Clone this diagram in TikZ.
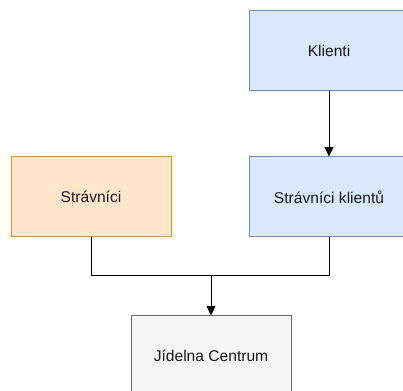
\documentclass[tikz,border=0pt]{standalone}
\usepackage{fontspec}
\setmainfont{Liberation Sans}
\usetikzlibrary{arrows.meta}
\definecolor{bluefill}{HTML}{DAE8FC}
\definecolor{bluedraw}{HTML}{6C8EBF}
\definecolor{orfill}{HTML}{FFE6CC}
\definecolor{ordraw}{HTML}{D79B00}
\definecolor{gyfill}{HTML}{F5F5F5}
\definecolor{gydraw}{HTML}{666666}
\begin{document}
\begin{tikzpicture}[x=0.75pt,y=-0.75pt,
  box/.style={rectangle, minimum width=120pt, minimum height=60pt, line width=0.75pt, inner sep=0pt, font=\fontsize{11.7}{13}\selectfont, text=black!90},
  bluebox/.style={box, fill=bluefill, draw=bluedraw},
  orbox/.style={box, fill=orfill, draw=ordraw},
  graybox/.style={box, fill=gyfill, draw=gydraw},
  conn/.style={line width=0.75pt, draw=black},
  arr/.style={conn, -{Triangle[length=7pt,width=6.5pt]}}]
\useasboundingbox (0,0) rectangle (403,391);
\clip (0,0) rectangle (403,391);
\fill[white] (0,0) rectangle (403,391);
\node[bluebox] (klienti) at (329,51) {Klienti};
\node[bluebox] (sk) at (329,197) {Strávníci klientů};
\node[orbox] (str) at (91,197) {Strávníci};
\node[graybox] (jc) at (211,356) {Jídelna Centrum};
\coordinate (j) at (211,276);
\draw[arr] (klienti) -- (sk);
\draw[conn] (str.south) |- (j);
\draw[conn] (sk.south) |- (j);
\draw[arr] (j) -- (jc.north);
\end{tikzpicture}
\end{document}
